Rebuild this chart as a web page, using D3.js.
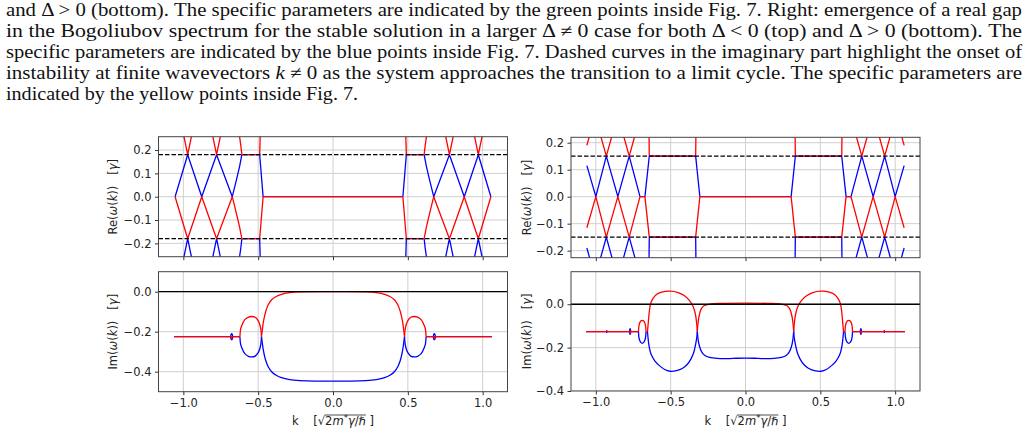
<!DOCTYPE html>
<html>
<head>
<meta charset="utf-8">
<script src="https://cdn.jsdelivr.net/npm/d3@7"></script>
<style>
body { margin: 0; background: #fff; }
svg { display: block; }
</style>
</head>
<body>
<script>
// caption text above the figure
const captionLines = [
  [["and Δ > 0 (bottom). The specific parameters are indicated by the green points inside Fig. 7. Right: emergence of a real gap"]],
  [["in the Bogoliubov spectrum for the stable solution in a larger Δ ≠ 0 case for both Δ < 0 (top) and Δ > 0 (bottom). The"]],
  [["specific parameters are indicated by the blue points inside Fig. 7. Dashed curves in the imaginary part highlight the onset of"]],
  [["instability at finite wavevectors "], ["k", true], [" ≠ 0 as the system approaches the transition to a limit cycle. The specific parameters are"]],
  [["indicated by the yellow points inside Fig. 7."]]
];

// ticks
const xTicks = [-1.0, -0.5, 0.0, 0.5, 1.0];
const reTicks = [-0.2, -0.1, 0.0, 0.1, 0.2];
const imTicks = [-0.4, -0.2, 0.0];

// gap lines (dashed) in the real parts
const gapLeft = [0.18, -0.18];
const gapRight = [0.15, -0.15];

// Re(w(k)), left (each entry is one polyline of [k, value])
const reLeftBlue = [
  [[-1.055, 0], [-0.971, 0.18], [-0.877, 0], [-0.778, 0.18], [-0.673, 0]],
  [[-0.673, 0], [-0.646, 0.07], [-0.624, 0.13], [-0.609, 0.18]],
  [[-0.609, 0.18], [-0.49, 0.18]],
  [[-0.49, 0.18], [-0.467, 0]],
  [[-0.467, 0], [0.467, 0]],
  [[-0.49, -0.18], [-0.486, -0.27]],
  [[-0.609, -0.18], [-0.49, -0.18]],
  [[-0.609, -0.18], [-0.616, -0.22], [-0.627, -0.27]],
  [[-1.0, -0.27], [-0.971, -0.18], [-0.942, -0.27]],
  [[-0.807, -0.27], [-0.778, -0.18], [-0.749, -0.27]],
  [[1.055, 0], [0.971, 0.18], [0.877, 0], [0.778, 0.18], [0.673, 0]],
  [[0.673, 0], [0.646, 0.07], [0.624, 0.13], [0.609, 0.18]],
  [[0.609, 0.18], [0.49, 0.18]],
  [[0.49, 0.18], [0.467, 0]],
  [[0.49, -0.18], [0.486, -0.27]],
  [[0.609, -0.18], [0.49, -0.18]],
  [[0.609, -0.18], [0.616, -0.22], [0.627, -0.27]],
  [[1.0, -0.27], [0.971, -0.18], [0.942, -0.27]],
  [[0.807, -0.27], [0.778, -0.18], [0.749, -0.27]]
];
const reLeftRed = [
  [[-1.055, 0], [-0.971, -0.18], [-0.877, 0], [-0.778, -0.18], [-0.673, 0]],
  [[-0.673, 0], [-0.646, -0.07], [-0.624, -0.13], [-0.609, -0.18]],
  [[-0.609, -0.18], [-0.49, -0.18]],
  [[-0.49, -0.18], [-0.467, 0]],
  [[-0.467, 0], [0.467, 0]],
  [[-0.49, 0.18], [-0.486, 0.27]],
  [[-0.609, 0.18], [-0.49, 0.18]],
  [[-0.609, 0.18], [-0.616, 0.22], [-0.627, 0.27]],
  [[-1.0, 0.27], [-0.971, 0.18], [-0.942, 0.27]],
  [[-0.807, 0.27], [-0.778, 0.18], [-0.749, 0.27]],
  [[1.055, 0], [0.971, -0.18], [0.877, 0], [0.778, -0.18], [0.673, 0]],
  [[0.673, 0], [0.646, -0.07], [0.624, -0.13], [0.609, -0.18]],
  [[0.609, -0.18], [0.49, -0.18]],
  [[0.49, -0.18], [0.467, 0]],
  [[0.49, 0.18], [0.486, 0.27]],
  [[0.609, 0.18], [0.49, 0.18]],
  [[0.609, 0.18], [0.616, 0.22], [0.627, 0.27]],
  [[1.0, 0.27], [0.971, 0.18], [0.942, 0.27]],
  [[0.807, 0.27], [0.778, 0.18], [0.749, 0.27]]
];

// Re(w(k)), right
const reRightBlue = [
  [[-1.06, 0.115], [-1.0, 0], [-0.93, 0.15], [-0.853, 0], [-0.777, 0.15], [-0.705, 0]],
  [[-0.705, 0], [-0.672, 0]],
  [[-0.672, 0], [-0.643, 0.15]],
  [[-0.643, 0.15], [-0.333, 0.15]],
  [[-0.333, 0.15], [-0.305, 0]],
  [[-0.305, 0], [0.305, 0]],
  [[-0.333, -0.15], [-0.331, -0.25]],
  [[-0.643, -0.15], [-0.333, -0.15]],
  [[-0.643, -0.15], [-0.645, -0.25]],
  [[-0.98, -0.25], [-0.93, -0.15], [-0.88, -0.25]],
  [[-0.827, -0.25], [-0.777, -0.15], [-0.727, -0.25]],
  [[-1.06, -0.19], [-1.03, -0.25]],
  [[1.06, 0.115], [1.0, 0], [0.93, 0.15], [0.853, 0], [0.777, 0.15], [0.705, 0]],
  [[0.705, 0], [0.672, 0]],
  [[0.672, 0], [0.643, 0.15]],
  [[0.643, 0.15], [0.333, 0.15]],
  [[0.333, 0.15], [0.305, 0]],
  [[0.333, -0.15], [0.331, -0.25]],
  [[0.643, -0.15], [0.333, -0.15]],
  [[0.643, -0.15], [0.645, -0.25]],
  [[0.98, -0.25], [0.93, -0.15], [0.88, -0.25]],
  [[0.827, -0.25], [0.777, -0.15], [0.727, -0.25]],
  [[1.06, -0.19], [1.03, -0.25]]
];
const reRightRed = [
  [[-1.06, -0.115], [-1.0, 0], [-0.93, -0.15], [-0.853, 0], [-0.777, -0.15], [-0.705, 0]],
  [[-0.705, 0], [-0.672, 0]],
  [[-0.672, 0], [-0.643, -0.15]],
  [[-0.643, -0.15], [-0.333, -0.15]],
  [[-0.333, -0.15], [-0.305, 0]],
  [[-0.305, 0], [0.305, 0]],
  [[-0.333, 0.15], [-0.331, 0.25]],
  [[-0.643, 0.15], [-0.333, 0.15]],
  [[-0.643, 0.15], [-0.645, 0.25]],
  [[-0.98, 0.25], [-0.93, 0.15], [-0.88, 0.25]],
  [[-0.827, 0.25], [-0.777, 0.15], [-0.727, 0.25]],
  [[-1.06, 0.19], [-1.03, 0.25]],
  [[1.06, -0.115], [1.0, 0], [0.93, -0.15], [0.853, 0], [0.777, -0.15], [0.705, 0]],
  [[0.705, 0], [0.672, 0]],
  [[0.672, 0], [0.643, -0.15]],
  [[0.643, -0.15], [0.333, -0.15]],
  [[0.333, -0.15], [0.305, 0]],
  [[0.333, 0.15], [0.331, 0.25]],
  [[0.643, 0.15], [0.333, 0.15]],
  [[0.643, 0.15], [0.645, 0.25]],
  [[0.98, 0.25], [0.93, 0.15], [0.88, 0.25]],
  [[0.827, 0.25], [0.777, 0.15], [0.727, 0.25]],
  [[1.06, 0.19], [1.03, 0.25]]
];

// Im(w(k)), left
const imLeftBlue = [
  [[-1.062, -0.225], [-0.622, -0.225]],
  [[-0.622, -0.225], [-0.618, -0.26], [-0.611, -0.278], [-0.589, -0.31], [-0.565, -0.323], [-0.544, -0.326], [-0.52, -0.322], [-0.5, -0.305], [-0.487, -0.28], [-0.481, -0.255], [-0.478, -0.225]],
  [[-0.478, -0.225], [-0.472, -0.258], [-0.466, -0.29], [-0.458, -0.32], [-0.45, -0.343], [-0.433, -0.375], [-0.41, -0.4], [-0.38, -0.418], [-0.345, -0.43], [-0.29, -0.44], [-0.22, -0.445], [-0.1, -0.447], [0, -0.447],
   [0.1, -0.447], [0.22, -0.445], [0.29, -0.44], [0.345, -0.43], [0.38, -0.418], [0.41, -0.4], [0.433, -0.375], [0.45, -0.343], [0.458, -0.32], [0.466, -0.29], [0.472, -0.258], [0.478, -0.225]],
  [[0.478, -0.225], [0.481, -0.255], [0.487, -0.28], [0.5, -0.305], [0.52, -0.322], [0.544, -0.326], [0.565, -0.323], [0.589, -0.31], [0.611, -0.278], [0.618, -0.26], [0.622, -0.225]],
  [[0.622, -0.225], [1.062, -0.225]],
  [[-0.684, -0.225], [-0.681, -0.214], [-0.677, -0.21], [-0.673, -0.214], [-0.67, -0.225], [-0.673, -0.236], [-0.677, -0.24], [-0.681, -0.236], [-0.684, -0.225]],
  [[0.67, -0.225], [0.673, -0.214], [0.677, -0.21], [0.681, -0.214], [0.684, -0.225], [0.681, -0.236], [0.677, -0.24], [0.673, -0.236], [0.67, -0.225]]
];
const imLeftRed = [
  [[-1.062, -0.225], [-0.622, -0.225]],
  [[-0.622, -0.225], [-0.618, -0.19], [-0.611, -0.172], [-0.589, -0.14], [-0.565, -0.127], [-0.544, -0.124], [-0.52, -0.128], [-0.5, -0.145], [-0.487, -0.17], [-0.481, -0.195], [-0.478, -0.225]],
  [[-0.478, -0.225], [-0.472, -0.19], [-0.466, -0.155], [-0.458, -0.125], [-0.45, -0.1], [-0.433, -0.065], [-0.41, -0.04], [-0.38, -0.024], [-0.345, -0.013], [-0.29, -0.005], [-0.22, -0.001], [0, 0],
   [0.22, -0.001], [0.29, -0.005], [0.345, -0.013], [0.38, -0.024], [0.41, -0.04], [0.433, -0.065], [0.45, -0.1], [0.458, -0.125], [0.466, -0.155], [0.472, -0.19], [0.478, -0.225]],
  [[0.478, -0.225], [0.481, -0.195], [0.487, -0.17], [0.5, -0.145], [0.52, -0.128], [0.544, -0.124], [0.565, -0.127], [0.589, -0.14], [0.611, -0.172], [0.618, -0.19], [0.622, -0.225]],
  [[0.622, -0.225], [1.062, -0.225]],
  [[-0.68, -0.226], [-0.677, -0.234], [-0.674, -0.226]],
  [[0.674, -0.226], [0.677, -0.234], [0.68, -0.226]]
];

// Im(w(k)), right
const imRightBlue = [
  [[-1.065, -0.126], [-0.715, -0.126]],
  [[-0.715, -0.126], [-0.713, -0.148], [-0.708, -0.165], [-0.7, -0.176], [-0.69, -0.18], [-0.68, -0.176], [-0.672, -0.165], [-0.667, -0.148], [-0.665, -0.126]],
  [[-0.665, -0.126], [-0.655, -0.126]],
  [[-0.655, -0.126], [-0.649, -0.17], [-0.641, -0.205], [-0.63, -0.232], [-0.605, -0.262], [-0.575, -0.283], [-0.54, -0.301], [-0.505, -0.309], [-0.46, -0.306], [-0.42, -0.295], [-0.39, -0.278], [-0.365, -0.253], [-0.345, -0.22], [-0.332, -0.18], [-0.325, -0.15], [-0.322, -0.126]],
  [[-0.322, -0.126], [-0.316, -0.165], [-0.307, -0.195], [-0.293, -0.22], [-0.272, -0.236], [-0.24, -0.245], [-0.19, -0.25], [-0.12, -0.251], [-0.06, -0.249], [0, -0.248],
   [0.06, -0.249], [0.12, -0.251], [0.19, -0.25], [0.24, -0.245], [0.272, -0.236], [0.293, -0.22], [0.307, -0.195], [0.316, -0.165], [0.322, -0.126]],
  [[0.322, -0.126], [0.325, -0.15], [0.332, -0.18], [0.345, -0.22], [0.365, -0.253], [0.39, -0.278], [0.42, -0.295], [0.46, -0.306], [0.505, -0.309], [0.54, -0.301], [0.575, -0.283], [0.605, -0.262], [0.63, -0.232], [0.641, -0.205], [0.649, -0.17], [0.655, -0.126]],
  [[0.655, -0.126], [0.665, -0.126]],
  [[0.665, -0.126], [0.667, -0.148], [0.672, -0.165], [0.68, -0.176], [0.69, -0.18], [0.7, -0.176], [0.708, -0.165], [0.713, -0.148], [0.715, -0.126]],
  [[0.715, -0.126], [1.065, -0.126]],
  [[-0.775, -0.126], [-0.773, -0.116], [-0.771, -0.113], [-0.769, -0.116], [-0.767, -0.126], [-0.769, -0.136], [-0.771, -0.139], [-0.773, -0.136], [-0.775, -0.126]],
  [[0.767, -0.126], [0.769, -0.116], [0.771, -0.113], [0.773, -0.116], [0.775, -0.126], [0.773, -0.136], [0.771, -0.139], [0.769, -0.136], [0.767, -0.126]],
  [[-0.929, -0.126], [-0.927, -0.122], [-0.925, -0.126], [-0.927, -0.13], [-0.929, -0.126]],
  [[0.925, -0.126], [0.927, -0.122], [0.929, -0.126], [0.927, -0.13], [0.925, -0.126]]
];
const imRightRed = [
  [[-1.065, -0.126], [-0.715, -0.126]],
  [[-0.715, -0.126], [-0.713, -0.105], [-0.708, -0.088], [-0.7, -0.077], [-0.69, -0.074], [-0.68, -0.077], [-0.672, -0.088], [-0.667, -0.105], [-0.665, -0.126]],
  [[-0.665, -0.126], [-0.655, -0.126]],
  [[-0.655, -0.126], [-0.649, -0.08], [-0.643, -0.035], [-0.635, 0.0], [-0.62, 0.025], [-0.595, 0.045], [-0.56, 0.056], [-0.505, 0.06], [-0.45, 0.054], [-0.41, 0.04], [-0.375, 0.018], [-0.35, -0.01], [-0.335, -0.045], [-0.326, -0.09], [-0.322, -0.126]],
  [[-0.322, -0.126], [-0.316, -0.08], [-0.307, -0.045], [-0.295, -0.02], [-0.275, -0.006], [-0.24, 0.001], [-0.15, 0.004], [0, 0.005],
   [0.15, 0.004], [0.24, 0.001], [0.275, -0.006], [0.295, -0.02], [0.307, -0.045], [0.316, -0.08], [0.322, -0.126]],
  [[0.322, -0.126], [0.326, -0.09], [0.335, -0.045], [0.35, -0.01], [0.375, 0.018], [0.41, 0.04], [0.45, 0.054], [0.505, 0.06], [0.56, 0.056], [0.595, 0.045], [0.62, 0.025], [0.635, 0.0], [0.643, -0.035], [0.649, -0.08], [0.655, -0.126]],
  [[0.655, -0.126], [0.665, -0.126]],
  [[0.665, -0.126], [0.667, -0.105], [0.672, -0.088], [0.68, -0.077], [0.69, -0.074], [0.7, -0.077], [0.708, -0.088], [0.713, -0.105], [0.715, -0.126]],
  [[0.715, -0.126], [1.065, -0.126]],
  [[-0.774, -0.128], [-0.771, -0.134], [-0.768, -0.128]],
  [[0.768, -0.128], [0.771, -0.134], [0.774, -0.128]]
];

const kDomain = [-1.166, 1.166];

const svg = d3.select('body').append('svg')
  .attr('width', 1029)
  .attr('height', 434);

// caption, justified lines
const captionY = [15.5, 36.7, 57.9, 79.1, 100.3];
captionLines.forEach((line, i) => {
  const t = svg.append('text')
    .attr('x', 6)
    .attr('y', captionY[i])
    .attr('textLength', i < 4 ? 1016 : 352)
    .attr('lengthAdjust', 'spacingAndGlyphs')
    .style('font-family', '"Liberation Serif", serif')
    .style('font-size', '18.5px')
    .style('fill', '#111');
  line.forEach(([s, it]) => {
    t.append('tspan').text(s).style('font-style', it ? 'italic' : 'normal');
  });
});

const panels = [
  { id: 'a', left: 158.5, right: 507.5, top: 136.7, bottom: 256.7, yDomain: [-0.2571, 0.2571], yTicks: reTicks,
    blue: reLeftBlue, red: reLeftRed, dashed: gapLeft, zero: false, xLabels: false, kind: 'Re', labelX: 113, smooth: false },
  { id: 'b', left: 571, right: 920, top: 137.3, bottom: 257.7, yDomain: [-0.226, 0.22], yTicks: reTicks,
    blue: reRightBlue, red: reRightRed, dashed: gapRight, zero: false, xLabels: false, kind: 'Re', labelX: 527, smooth: false },
  { id: 'c', left: 158.5, right: 507.5, top: 271.7, bottom: 391.7, yDomain: [-0.5, 0.1], yTicks: imTicks,
    blue: imLeftBlue, red: imLeftRed, dashed: [], zero: true, xLabels: true, kind: 'Im', labelX: 113, smooth: true },
  { id: 'd', left: 571, right: 920, top: 271.7, bottom: 391, yDomain: [-0.4, 0.15], yTicks: imTicks,
    blue: imRightBlue, red: imRightRed, dashed: [], zero: true, xLabels: true, kind: 'Im', labelX: 527, smooth: true }
];

const fmt = d3.format('.1f');
const fontSans = '"DejaVu Sans", sans-serif';
const fs = '11.5px';

panels.forEach(p => {
  const x = d3.scaleLinear().domain(kDomain).range([p.left, p.right]);
  const y = d3.scaleLinear().domain(p.yDomain).range([p.bottom, p.top]);

  svg.append('clipPath').attr('id', 'clip-' + p.id)
    .append('rect')
    .attr('x', p.left).attr('y', p.top)
    .attr('width', p.right - p.left).attr('height', p.bottom - p.top);

  const g = svg.append('g');
  const plot = g.append('g').attr('clip-path', `url(#clip-${p.id})`);

  // grid
  plot.append('g').selectAll('line').data(xTicks).join('line')
    .attr('x1', d => x(d)).attr('x2', d => x(d))
    .attr('y1', p.top).attr('y2', p.bottom)
    .attr('stroke', '#cfcfcf').attr('stroke-width', 1);
  plot.append('g').selectAll('line').data(p.yTicks).join('line')
    .attr('x1', p.left).attr('x2', p.right)
    .attr('y1', d => y(d)).attr('y2', d => y(d))
    .attr('stroke', '#cfcfcf').attr('stroke-width', 1);

  const line = d3.line()
    .x(d => x(d[0])).y(d => y(d[1]))
    .curve(p.smooth ? d3.curveCatmullRom : d3.curveLinear);

  plot.append('g').selectAll('path').data(p.blue).join('path')
    .attr('d', line)
    .attr('fill', 'none').attr('stroke', '#0000ff').attr('stroke-width', 1.3)
    .attr('stroke-linejoin', 'round');
  plot.append('g').selectAll('path').data(p.red).join('path')
    .attr('d', line)
    .attr('fill', 'none').attr('stroke', '#ff0000').attr('stroke-width', 1.3)
    .attr('stroke-linejoin', 'round');

  // dashed gap lines
  plot.append('g').selectAll('line').data(p.dashed).join('line')
    .attr('x1', p.left).attr('x2', p.right)
    .attr('y1', d => y(d)).attr('y2', d => y(d))
    .attr('stroke', '#000').attr('stroke-width', 1.2)
    .attr('stroke-dasharray', '4.5,2');

  // zero line in the imaginary parts
  if (p.zero) {
    plot.append('line')
      .attr('x1', p.left).attr('x2', p.right)
      .attr('y1', y(0)).attr('y2', y(0))
      .attr('stroke', '#000').attr('stroke-width', 1.3);
  }

  // axes
  const xAxis = d3.axisBottom(x).tickValues(xTicks).tickSize(3.5).tickPadding(3.5)
    .tickFormat(p.xLabels ? fmt : () => '');
  const yAxis = d3.axisLeft(y).tickValues(p.yTicks).tickSize(3.5).tickPadding(3.5).tickFormat(fmt);

  const gx = g.append('g').attr('transform', `translate(0,${p.bottom})`).call(xAxis);
  const gy = g.append('g').attr('transform', `translate(${p.left},0)`).call(yAxis);
  [gx, gy].forEach(a => {
    a.select('.domain').remove();
    a.selectAll('line').attr('stroke', '#333');
    a.selectAll('text').style('font-family', fontSans).style('font-size', fs).attr('fill', '#222');
  });

  // frame
  g.append('rect')
    .attr('x', p.left).attr('y', p.top)
    .attr('width', p.right - p.left).attr('height', p.bottom - p.top)
    .attr('fill', 'none').attr('stroke', '#444').attr('stroke-width', 1);

  // y label
  const cy = (p.top + p.bottom) / 2;
  const yl = g.append('text')
    .attr('transform', `translate(${p.labelX},${cy}) rotate(-90)`)
    .attr('text-anchor', 'middle')
    .attr('dy', '0.35em')
    .style('font-family', fontSans).style('font-size', fs).attr('fill', '#222');
  yl.append('tspan').text(p.kind + '(');
  yl.append('tspan').text('ω').style('font-style', 'italic');
  yl.append('tspan').text('(');
  yl.append('tspan').text('k').style('font-style', 'italic');
  yl.append('tspan').text('))\u00a0\u00a0\u00a0[');
  yl.append('tspan').text('γ').style('font-style', 'italic');
  yl.append('tspan').text(']');

  // x label on the bottom panels
  if (p.xLabels) {
    const cx = (p.left + p.right) / 2;
    const xl = g.append('text')
      .attr('x', cx).attr('y', 425)
      .attr('text-anchor', 'middle')
      .style('font-family', fontSans).style('font-size', fs).attr('fill', '#222');
    xl.append('tspan').text('k\u00a0\u00a0\u00a0\u00a0[');
    xl.append('tspan').text('√');
    xl.append('tspan').text('2');
    xl.append('tspan').text('m').style('font-style', 'italic');
    xl.append('tspan').text('*').attr('dy', -4).style('font-size', '8.5px');
    xl.append('tspan').text('γ').attr('dy', 4).style('font-style', 'italic');
    xl.append('tspan').text('/ℏ');
    xl.append('tspan').text('\u00a0]');
    // overline of the square root
    const node = xl.node();
    const a = node.getExtentOfChar(6);
    const b = node.getExtentOfChar(12);
    g.append('line')
      .attr('x1', a.x + a.width - 0.5).attr('x2', b.x + b.width)
      .attr('y1', a.y + 1).attr('y2', a.y + 1)
      .attr('stroke', '#222').attr('stroke-width', 0.8);
  }
});
</script>
</body>
</html>
